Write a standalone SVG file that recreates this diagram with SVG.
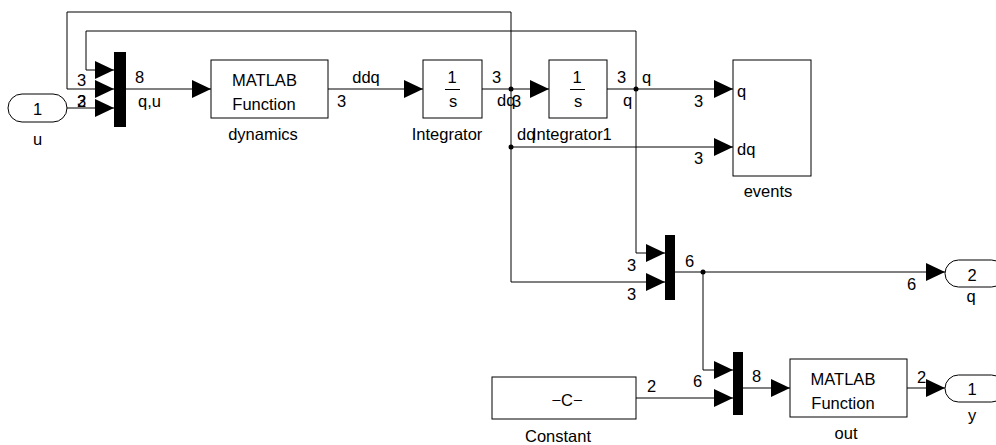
<svg xmlns="http://www.w3.org/2000/svg" width="996" height="445" viewBox="0 0 996 445">
<style>
text{font-family:"Liberation Sans",Arial,Helvetica,sans-serif;font-size:16.5px;fill:#000}
.m{text-anchor:middle}
.blk{fill:#fff;stroke:#000;stroke-width:1}
.bar{fill:#000;stroke:none}
.ln{fill:none;stroke:#000;stroke-width:1}
.dot{fill:#000}
</style>
<defs>
<marker id="ah" markerUnits="userSpaceOnUse" markerWidth="19" markerHeight="18" refX="19" refY="9" orient="auto">
<path d="M0,0 L19,9 L0,18 z" fill="#000"/>
</marker>
</defs>
<rect width="996" height="445" fill="#fff"/>
<g id="connectors">
<path class="ln" d="M67,108 H114" marker-end="url(#ah)"/>
<path class="ln" d="M511,89 V12 H67 V89 H114" marker-end="url(#ah)"/>
<path class="ln" d="M636,89 V31 H86 V70 H114" marker-end="url(#ah)"/>
<path class="ln" d="M126,89 H211" marker-end="url(#ah)"/>
<path class="ln" d="M328,89 H423" marker-end="url(#ah)"/>
<path class="ln" d="M482,89 H549" marker-end="url(#ah)"/>
<path class="ln" d="M607,89 H733" marker-end="url(#ah)"/>
<path class="ln" d="M511,89 V282 H665" marker-end="url(#ah)"/>
<path class="ln" d="M511,147 H733" marker-end="url(#ah)"/>
<path class="ln" d="M636,89 V253 H665" marker-end="url(#ah)"/>
<path class="ln" d="M675,272 H945" marker-end="url(#ah)"/>
<path class="ln" d="M703,272 V370 H733" marker-end="url(#ah)"/>
<path class="ln" d="M636,398 H733" marker-end="url(#ah)"/>
<path class="ln" d="M743,388 H790" marker-end="url(#ah)"/>
<path class="ln" d="M907,388 H945" marker-end="url(#ah)"/>
<circle class="dot" cx="511" cy="89" r="2.5"/>
<circle class="dot" cx="511" cy="147" r="2.5"/>
<circle class="dot" cx="636" cy="89" r="2.5"/>
<circle class="dot" cx="703" cy="272" r="2.5"/>
<text x="77" y="86">3</text>
<text x="77" y="107">2</text>
<text x="77" y="107">3</text>
<text x="135" y="83">8</text>
<text x="138" y="107">q,u</text>
<text class="m" x="366" y="83">ddq</text>
<text x="337" y="107">3</text>
<text x="492" y="83">3</text>
<text x="497" y="106">dq</text>
<text x="512" y="107">3</text>
<text x="517" y="140">dq</text>
<text x="617" y="83">3</text>
<text x="642" y="83">q</text>
<text x="623" y="106">q</text>
<text x="694" y="107">3</text>
<text x="694" y="164">3</text>
<text x="627" y="271">3</text>
<text x="627" y="300">3</text>
<text x="685" y="267">6</text>
<text x="907" y="290">6</text>
<text x="647" y="392">2</text>
<text x="693" y="387">6</text>
<text x="752" y="382">8</text>
<text x="917" y="383">2</text>
</g>
<g id="u">
<rect class="blk" x="8" y="94" width="59" height="28" rx="14" ry="14"/>
<text class="m" x="37.5" y="115">1</text>
<text class="m" x="37.5" y="145">u</text>
</g>
<g id="mux1">
<rect class="bar" x="114" y="52" width="12" height="75"/>
</g>
<g id="dynamics">
<rect class="blk" x="211" y="60" width="117" height="58"/>
<text class="m" x="264.5" y="86">MATLAB</text>
<text class="m" x="264" y="110">Function</text>
<text class="m" x="263" y="140">dynamics</text>
</g>
<g id="Integrator">
<rect class="blk" x="423" y="60" width="59" height="58"/>
<text class="m" x="452" y="83">1</text>
<line class="ln" x1="445" y1="89.5" x2="460" y2="89.5"/>
<text class="m" x="453" y="107">s</text>
<text class="m" x="447" y="140">Integrator</text>
</g>
<g id="Integrator1">
<rect class="blk" x="549" y="60" width="58" height="58"/>
<text class="m" x="577" y="83">1</text>
<line class="ln" x1="570" y1="89.5" x2="585" y2="89.5"/>
<text class="m" x="578" y="107">s</text>
<text x="532" y="140">Integrator1</text>
</g>
<g id="events">
<rect class="blk" x="733" y="60" width="78" height="116"/>
<text x="737" y="97">q</text>
<text x="737" y="155">dq</text>
<text class="m" x="768" y="197">events</text>
</g>
<g id="mux2">
<rect class="bar" x="665" y="235" width="10" height="65"/>
</g>
<g id="q">
<rect class="blk" x="945" y="260" width="60" height="27" rx="13.5" ry="13.5"/>
<text class="m" x="972" y="281">2</text>
<text class="m" x="971" y="302">q</text>
</g>
<g id="Constant">
<rect class="blk" x="492" y="377" width="144" height="42"/>
<text class="m" x="567" y="406">−C−</text>
<text class="m" x="558" y="442">Constant</text>
</g>
<g id="mux3">
<rect class="bar" x="733" y="352" width="10" height="63"/>
</g>
<g id="out">
<rect class="blk" x="790" y="359" width="117" height="58"/>
<text class="m" x="843" y="385">MATLAB</text>
<text class="m" x="843" y="409">Function</text>
<text class="m" x="846" y="439">out</text>
</g>
<g id="y">
<rect class="blk" x="945" y="375" width="60" height="27" rx="13.5" ry="13.5"/>
<text class="m" x="972" y="395">1</text>
<text class="m" x="972" y="421">y</text>
</g>
</svg>
